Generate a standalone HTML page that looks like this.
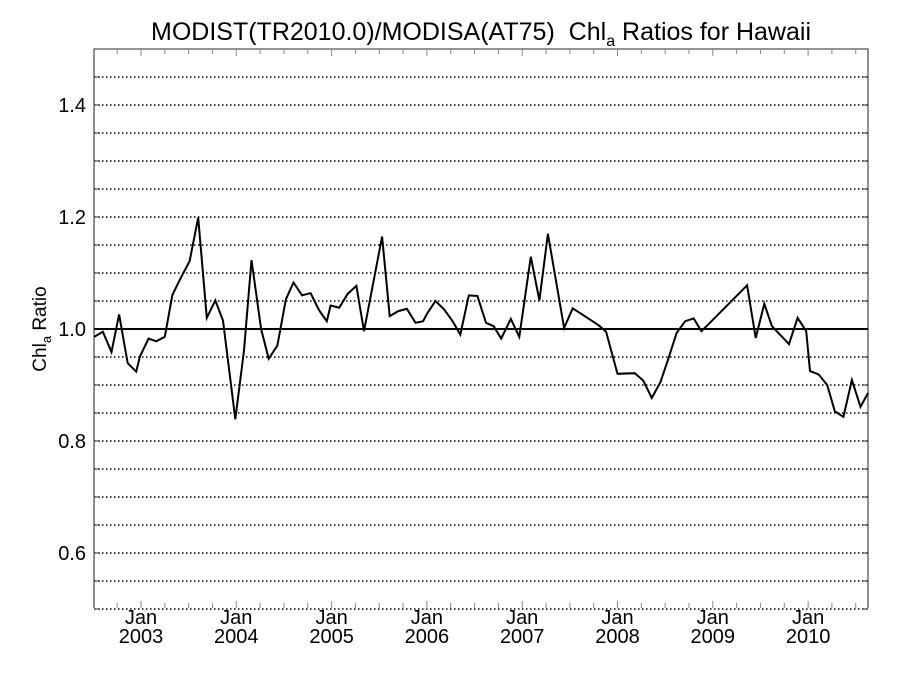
<!DOCTYPE html>
<html><head><meta charset="utf-8"><style>
body{margin:0;background:#fff;}
svg text{font-family:"Liberation Sans",Arial,sans-serif;fill:#000;}
</style></head><body>
<svg width="900" height="675" viewBox="0 0 900 675" xmlns="http://www.w3.org/2000/svg">
<rect width="900" height="675" fill="#fff"/>
<g id="grid"></g>
<g id="axes"></g>
<g id="labels"></g>
<line x1="94" y1="329" x2="868" y2="329" stroke="#000" stroke-width="2"/>
<path id="series" fill="none" stroke="#000" stroke-width="2" stroke-linejoin="miter"/>
<text x="481" y="40" font-size="25" text-anchor="middle">MODIST(TR2010.0)/MODISA(AT75)&#160; Chl<tspan font-size="16" dy="6">a</tspan><tspan dy="-6"> Ratios for Hawaii</tspan></text>
<text transform="translate(46,329) rotate(-90)" font-size="19" text-anchor="middle">Chl<tspan font-size="13" dy="5">a</tspan><tspan dy="-5"> Ratio</tspan></text>
</svg>
<script>
const dates=[2002.51,2002.60,2002.69,2002.77,2002.86,2002.95,2002.99,2003.08,2003.16,2003.25,2003.33,2003.42,2003.51,2003.60,2003.69,2003.78,2003.86,2003.99,2004.08,2004.16,2004.26,2004.34,2004.43,2004.52,2004.60,2004.69,2004.78,2004.87,2004.95,2004.99,2005.08,2005.17,2005.26,2005.34,2005.53,2005.61,2005.70,2005.79,2005.88,2005.96,2006.00,2006.09,2006.18,2006.27,2006.35,2006.44,2006.53,2006.62,2006.70,2006.78,2006.88,2006.97,2007.09,2007.18,2007.27,2007.44,2007.53,2007.80,2007.88,2008.00,2008.18,2008.27,2008.36,2008.45,2008.53,2008.62,2008.71,2008.80,2008.88,2008.97,2009.36,2009.45,2009.54,2009.62,2009.71,2009.80,2009.89,2009.98,2010.02,2010.11,2010.20,2010.28,2010.37,2010.46,2010.55,2010.63];
const ratios=[0.986,0.995,0.959,1.026,0.939,0.924,0.951,0.983,0.978,0.986,1.061,1.092,1.121,1.199,1.020,1.051,1.015,0.839,0.960,1.123,1.000,0.947,0.970,1.053,1.083,1.060,1.064,1.033,1.014,1.042,1.038,1.063,1.077,0.996,1.165,1.023,1.032,1.036,1.011,1.014,1.027,1.050,1.035,1.014,0.990,1.060,1.059,1.011,1.005,0.983,1.018,0.986,1.129,1.051,1.170,1.002,1.037,1.007,0.995,0.920,0.921,0.908,0.877,0.905,0.945,0.993,1.014,1.019,0.996,1.011,1.078,0.984,1.045,1.005,0.989,0.973,1.020,0.996,0.925,0.919,0.900,0.853,0.843,0.909,0.861,0.886];
const yTicks=[0.6,0.8,1.0,1.2,1.4];
const yTickLabels=["0.6","0.8","1.0","1.2","1.4"];
const years=[2003,2004,2005,2006,2007,2008,2009,2010];
const NS="http://www.w3.org/2000/svg";
const L=94,R=868,T=49,B=608;
const xs=t=>141+(t-2003)*95.3;
const ys=v=>329-(v-1)*560;
function mk(tag,attrs,parent){const e=document.createElementNS(NS,tag);for(const k in attrs)e.setAttribute(k,attrs[k]);parent.appendChild(e);return e;}
const grid=document.getElementById('grid'),axes=document.getElementById('axes'),labels=document.getElementById('labels');
for(let i=0;i<=20;i++){const v=0.5+i*0.05;if(v>1.49)break;const y=ys(v);
 const g=mk('line',{x1:L,x2:R,y1:y,y2:y,stroke:'#000','stroke-width':1.4,'stroke-dasharray':'1.5,2.5'},grid);
 
 
 const t1=mk('line',{x1:L,x2:L+6,y1:y,y2:y,stroke:'#333','stroke-width':1},axes);
 
 
 const t2=mk('line',{x1:R-6,x2:R,y1:y,y2:y,stroke:'#333','stroke-width':1},axes);
 
 
}
const fr=mk('path',{d:`M${L},${B} L${L},${T} L${R},${T} L${R},${B}`,fill:'none',stroke:'#555','stroke-width':1.3},axes);


yTicks.forEach((v,i)=>{const t=mk('text',{x:86,y:ys(v)+7,'font-size':20,'text-anchor':'end'},labels);t.textContent=yTickLabels[i];
 
 });
for(let m=2002.5;m<=2010.75;m+=0.25){const x=xs(m);if(x<L+1||x>R-1)continue;const major=Math.abs(m-Math.round(m))<1e-6;const len=major?7:5;
 const a=mk('line',{x1:x,x2:x,y1:B,y2:B-len,stroke:'#888','stroke-width':1},axes);
 
 
 const b=mk('line',{x1:x,x2:x,y1:T,y2:T+len,stroke:'#888','stroke-width':1},axes);
 
 }
years.forEach(yr=>{const x=xs(yr);
 const a=mk('text',{x:x,y:624,'font-size':20,'text-anchor':'middle'},labels);a.textContent='Jan';
 
 
 const b=mk('text',{x:x,y:643,'font-size':20,'text-anchor':'middle'},labels);b.textContent=String(yr);
 
 });
document.getElementById('series').setAttribute('d',dates.map((d,i)=>(i?'L':'M')+xs(d).toFixed(1)+','+ys(ratios[i]).toFixed(1)).join(' '));
</script>
</body></html>
